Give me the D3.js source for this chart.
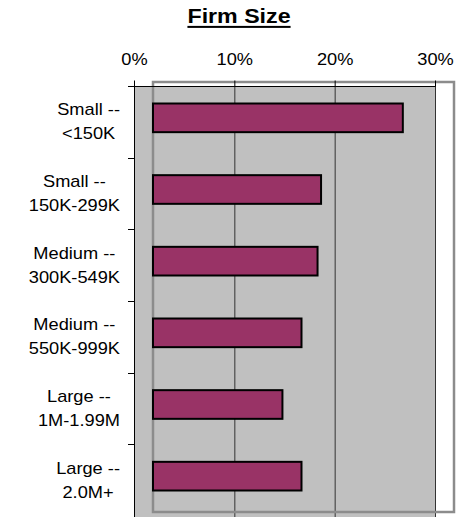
<!DOCTYPE html>
<html>
<head>
<meta charset="utf-8">
<script src="https://cdn.jsdelivr.net/npm/d3@7"></script>
<style>
  html, body { margin: 0; padding: 0; background: #fff; }
  svg { display: block; }
  text { font-family: "Liberation Sans", Arial, sans-serif; fill: #000; }
</style>
</head>
<body>
<svg id="chart" width="465" height="517"></svg>
<script>
const title = "Firm Size";
const categories = [
  ["Small --", "<150K"],
  ["Small --", "150K-299K"],
  ["Medium --", "300K-549K"],
  ["Medium --", "550K-999K"],
  ["Large --", "1M-1.99M"],
  ["Large --", "2.0M+"]
];
const values = [0.249, 0.1675, 0.164, 0.148, 0.129, 0.148];
const tickValues = [0, 0.1, 0.2, 0.3];

(function () {
const svg = d3.select("#chart");
const W = 465, H = 517;
const pLeft = 134, pRight = 435, pTop = 86, pBottom = 516;
const shiftX = 19, shiftY = -4;   // plot-area layer offset as rendered in the reference
const sx = 1.14;                  // horizontal text stretch seen in reference

const x = d3.scaleLinear().domain([0, 0.3]).range([pLeft, pRight]);
const keys = categories.map((c, i) => i);
const y = d3.scaleBand().domain(keys).range([pTop, pBottom]).paddingInner(0.6).paddingOuter(0.3);

// gray plot fill
svg.append("rect").attr("x", pLeft).attr("y", pTop).attr("width", pRight - pLeft).attr("height", H - pTop)
  .attr("fill", "#c0c0c0");

// gridlines
svg.append("g").selectAll("line").data(tickValues.slice(1)).join("line")
  .attr("x1", d => x(d) + 0.5).attr("x2", d => x(d) + 0.5)
  .attr("y1", pTop).attr("y2", H)
  .attr("stroke", "#333").attr("stroke-width", 1);

// shifted plot-area border
svg.append("rect")
  .attr("x", pLeft + shiftX).attr("y", pTop + shiftY)
  .attr("width", pRight - pLeft).attr("height", pBottom - pTop)
  .attr("fill", "none").attr("stroke", "#8c8c8c").attr("stroke-width", 2.5);

// bars
svg.append("g").attr("transform", `translate(${shiftX},${shiftY})`)
  .selectAll("rect").data(values).join("rect")
  .attr("x", x(0)).attr("y", (d, i) => y(i))
  .attr("width", d => x(d) - x(0)).attr("height", y.bandwidth())
  .attr("fill", "#993366").attr("stroke", "#000").attr("stroke-width", 2);

// top axis
const xAxis = svg.append("g").attr("transform", `translate(0,${pTop + 0.5})`)
  .call(d3.axisTop(x).tickValues(tickValues).tickFormat(d3.format(".0%")).tickSize(6).tickPadding(16).tickSizeOuter(0));
xAxis.select(".domain").attr("stroke", "#000").attr("d", `M${pLeft - 6},0H${pRight + 0.5}`);
xAxis.selectAll(".tick line").attr("stroke", "#000");
xAxis.selectAll(".tick text").attr("font-size", 16).attr("font-family", "Liberation Sans, Arial, sans-serif")
  .attr("transform", `scale(${sx},1)`);

// left axis
const yAxis = svg.append("g").attr("transform", `translate(${pLeft + 0.5},0)`)
  .call(d3.axisLeft(y).tickSize(0).tickFormat(""));
yAxis.select(".domain").attr("stroke", "#000").attr("d", `M0,${pTop}V${H}`);
yAxis.selectAll(".tick").remove();
// category boundary ticks
const boundaries = d3.range(1, categories.length).map(i => y(i) - y.step() * y.paddingInner() / 2);
svg.append("g").selectAll("line").data(boundaries).join("line")
  .attr("x1", pLeft - 6).attr("x2", pLeft).attr("y1", d => Math.round(d) + 0.5).attr("y2", d => Math.round(d) + 0.5)
  .attr("stroke", "#000");

// category labels
const labelRight = 120;
const lineH = 24;
categories.forEach((lines, i) => {
  const cy = y(i) + y.bandwidth() / 2;
  const g = svg.append("g");
  const t = g.append("text").attr("text-anchor", "middle").attr("font-size", 16);
  lines.forEach((ln, j) => {
    t.append("tspan").attr("x", 0).attr("y", (j - (lines.length - 1) / 2) * lineH + 5.5).text(ln);
  });
  let maxW = 0;
  t.selectAll("tspan").each(function() { maxW = Math.max(maxW, this.getComputedTextLength()); });
  const cx = labelRight - maxW * sx / 2;
  g.attr("transform", `translate(${cx},${cy}) scale(${sx},1)`);
});

// title
const tg = svg.append("g");
const tt = tg.append("text").attr("text-anchor", "middle").attr("font-size", 20).attr("font-weight", "bold")
  .attr("x", 0).attr("y", 0).text(title);
const tw = tt.node().getComputedTextLength();
tg.attr("transform", `translate(239,23.3) scale(${1.16},1)`);
tg.append("rect").attr("x", -tw / 2).attr("y", 2.6).attr("width", tw).attr("height", 2).attr("fill", "#000");
})();
</script>
</body>
</html>
